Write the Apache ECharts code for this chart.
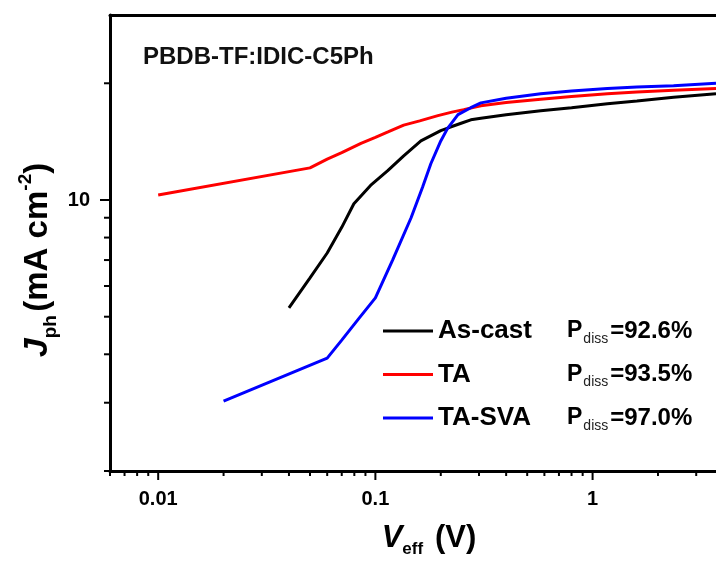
<!DOCTYPE html>
<html>
<head>
<meta charset="utf-8">
<script src="https://cdn.jsdelivr.net/npm/echarts@6/dist/echarts.min.js"></script>
<style>html,body{margin:0;padding:0;background:#fff}#c{width:716px;height:565px}</style>
</head>
<body>
<div id="c"></div>
<script>
// ---- data ----
const asCastV = [0.04, 0.05, 0.06, 0.07, 0.0796, 0.095, 0.114, 0.135, 0.162, 0.2, 0.22, 0.25, 0.275, 0.306, 0.4, 0.577, 0.8, 1.17, 1.6, 2.36, 3.7];
const asCastJ = [5.27, 6.3, 7.3, 8.5, 9.78, 10.9, 11.9, 13.0, 14.2, 15.1, 15.4, 15.8, 16.1, 16.25, 16.6, 17.0, 17.3, 17.7, 18.0, 18.4, 18.8];
const taV = [0.01, 0.05, 0.06, 0.07, 0.0858, 0.1, 0.115, 0.135, 0.16, 0.194, 0.225, 0.255, 0.306, 0.4, 0.577, 0.8, 1.17, 1.6, 2.36, 3.7];
const taJ = [10.3, 12.1, 12.75, 13.25, 14.0, 14.5, 15.0, 15.6, 16.0, 16.5, 16.85, 17.1, 17.5, 17.85, 18.2, 18.5, 18.8, 19.0, 19.2, 19.4];
const svaV = [0.02, 0.06, 0.07, 0.084, 0.1, 0.12, 0.146, 0.165, 0.18, 0.2, 0.215, 0.24, 0.275, 0.306, 0.4, 0.577, 0.8, 1.17, 1.6, 2.36, 3.7];
const svaJ = [3.03, 3.91, 4.35, 4.95, 5.59, 7.0, 9.0, 10.8, 12.4, 14.2, 15.3, 16.6, 17.3, 17.8, 18.3, 18.8, 19.1, 19.4, 19.55, 19.7, 20.0];
const seriesNames = ['As-cast', 'TA', 'TA-SVA'];
const pdiss = ['92.6%', '93.5%', '97.0%'];
const xMajorTicks = [0.01, 0.1, 1];
const xMinorTicks = [0.006, 0.007, 0.008, 0.009, 0.02, 0.03, 0.04, 0.05, 0.06, 0.07, 0.08, 0.09,
  0.2, 0.3, 0.4, 0.5, 0.6, 0.7, 0.8, 0.9, 2, 3];
const yMajorTicks = [10];
const yMinorTicks = [2, 3, 4, 5, 6, 7, 8, 9, 20];
const xMin = 0.006, xMax = 3.7, yMin = 2, yMax = 30;
const sampleLabel = 'PBDB-TF:IDIC-C5Ph';

const zip = (a, b) => a.map((v, i) => [v, b[i]]);
const FONT = '"Liberation Sans", Arial, sans-serif';

function tickSeries(vals, axis, len) {
  return {
    type: 'custom', silent: true, clip: false, z: 5,
    data: vals.map(v => axis === 'x' ? [v, yMin] : [xMin, v]),
    renderItem: function (params, api) {
      const p = api.coord([api.value(0), api.value(1)]);
      const shape = axis === 'x'
        ? { x1: p[0], y1: p[1], x2: p[0], y2: p[1] + len }
        : { x1: p[0] - len, y1: p[1], x2: p[0], y2: p[1] };
      return { type: 'line', shape: shape, style: { stroke: '#000', lineWidth: 2 } };
    }
  };
}

const chart = echarts.init(document.getElementById('c'), null, { renderer: 'canvas' });
const colors = ['#000000', '#ff0000', '#0000ff'];
chart.setOption({
  animation: false,
  backgroundColor: '#fff',
  grid: { left: 110, top: 15, right: 0, bottom: 94, containLabel: false },
  xAxis: [{
    type: 'log', min: xMin, max: xMax, logBase: 10,
    axisLine: { show: true, lineStyle: { color: '#000', width: 3 } },
    axisTick: { show: false }, splitLine: { show: false }, minorTick: { show: false },
    axisLabel: { show: true, margin: 18, showMinLabel: false, showMaxLabel: false,
      color: '#000', fontSize: 20, fontWeight: 'bold', fontFamily: FONT,
      formatter: v => String(+v.toPrecision(6)) }
  }, {
    type: 'log', min: xMin, max: xMax, position: 'top',
    axisLine: { show: true, onZero: false, lineStyle: { color: '#000', width: 3 } },
    axisTick: { show: false }, axisLabel: { show: false }, splitLine: { show: false }
  }],
  yAxis: {
    type: 'log', min: yMin, max: yMax, logBase: 10,
    axisLine: { show: true, lineStyle: { color: '#000', width: 3 } },
    axisTick: { show: false }, splitLine: { show: false },
    axisLabel: { show: true, margin: 20, showMinLabel: false, showMaxLabel: false,
      color: '#000', fontSize: 20, fontWeight: 'bold', fontFamily: FONT,
      formatter: v => String(+v.toPrecision(6)) }
  },
  legend: {
    show: true, orient: 'vertical', left: 383, top: 318, padding: 0,
    itemWidth: 50, itemHeight: 3, itemGap: 15.5, itemTextGap: 10, icon: 'rect',
    data: seriesNames,
    formatter: function (name) {
      const i = seriesNames.indexOf(name);
      return '{n|' + name + '}{p|P}{s|diss}{v|=' + pdiss[i] + '}';
    },
    textStyle: {
      fontFamily: FONT, color: '#000',
      rich: {
        n: { fontSize: 26, fontWeight: 'bold', width: 129, lineHeight: 30, fontFamily: FONT },
        p: { fontSize: 23, fontWeight: 'bold', lineHeight: 30, fontFamily: FONT },
        s: { fontSize: 14, lineHeight: 30, verticalAlign: 'bottom', padding: [0, 2, 0, 1], fontFamily: FONT, color: '#222' },
        v: { fontSize: 24, fontWeight: 'bold', lineHeight: 30, fontFamily: FONT }
      }
    }
  },
  graphic: [
    { type: 'text', x: 143, y: 57, silent: true,
      style: { text: sampleLabel, fill: '#111', font: 'bold 24px ' + FONT, align: 'left', verticalAlign: 'middle' } },
    { type: 'text', x: 38, y: 260, rotation: Math.PI / 2, silent: true,
      style: {
        text: '{j|J}{sb|ph} {t|(mA cm}{sp|-2}{t|)}', align: 'center', verticalAlign: 'middle', fill: '#000',
        rich: {
          j: { fontSize: 34, fontWeight: 'bold', fontStyle: 'italic', fontFamily: FONT, lineHeight: 44 },
          sb: { fontSize: 19, fontWeight: 'bold', fontFamily: FONT, lineHeight: 44, verticalAlign: 'bottom' },
          t: { fontSize: 33, fontWeight: 'bold', fontFamily: FONT, lineHeight: 44 },
          sp: { fontSize: 19, fontWeight: 'bold', fontFamily: FONT, lineHeight: 44, verticalAlign: 'top' }
        }
      } },
    { type: 'text', x: 429, y: 538, silent: true,
      style: {
        text: '{j|V}{sb|eff} {t| (V)}', align: 'center', verticalAlign: 'middle', fill: '#000',
        rich: {
          j: { fontSize: 31, fontWeight: 'bold', fontStyle: 'italic', fontFamily: FONT, lineHeight: 40 },
          sb: { fontSize: 17, fontWeight: 'bold', fontFamily: FONT, lineHeight: 40, verticalAlign: 'bottom' },
          t: { fontSize: 31, fontWeight: 'bold', fontFamily: FONT, lineHeight: 40 }
        }
      } }
  ],
  series: [
    { name: seriesNames[0], type: 'line', data: zip(asCastV, asCastJ), showSymbol: false, symbol: 'none',
      lineStyle: { color: colors[0], width: 3 }, itemStyle: { color: colors[0] }, z: 3 },
    { name: seriesNames[1], type: 'line', data: zip(taV, taJ), showSymbol: false, symbol: 'none',
      lineStyle: { color: colors[1], width: 3 }, itemStyle: { color: colors[1] }, z: 3 },
    { name: seriesNames[2], type: 'line', data: zip(svaV, svaJ), showSymbol: false, symbol: 'none',
      lineStyle: { color: colors[2], width: 3 }, itemStyle: { color: colors[2] }, z: 3 },
    tickSeries(xMajorTicks, 'x', 9),
    tickSeries(xMinorTicks, 'x', 5),
    tickSeries(yMajorTicks, 'y', 10),
    tickSeries(yMinorTicks, 'y', 6)
  ]
});
</script>
</body>
</html>
